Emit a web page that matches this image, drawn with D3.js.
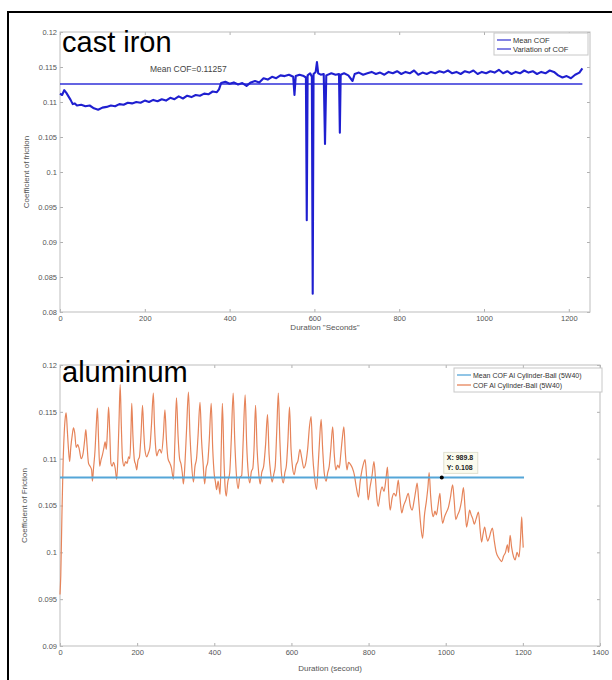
<!DOCTYPE html>
<html><head><meta charset="utf-8">
<script src="https://cdn.jsdelivr.net/npm/d3@7/dist/d3.min.js"></script>
<style>body{margin:0;background:#fff}svg{display:block}text{font-family:"Liberation Sans",Arial,sans-serif}</style>
</head><body>
<svg id="c" width="612" height="680"></svg>
<script>
// ---------- data: cast iron ----------
const castTime = [0,5,10,15,20,25,30,35,40,50,60,70,80,90,100,110,120,130,140,150,160,170,180,190,200,210,220,230,240,250,260,270,280,290,300,310,320,330,340,350,360,370,375,380,390,400,410,420,430,440,450,460,470,480,490,500,510,520,530,540,550,553,556,565,575,580,582,584,590,594,596,598,603,606,609,615,622,625,628,640,650,658,660,662,670,680,690,695,705,715,725,735,745,755,765,775,785,795,805,815,825,835,845,855,865,875,885,895,905,915,925,935,945,955,965,975,985,995,1005,1015,1025,1035,1045,1055,1065,1075,1085,1095,1105,1115,1125,1135,1145,1155,1165,1175,1185,1195,1205,1215,1225,1232];
const castCOF = [0.1112,0.1110,0.1117,0.1113,0.1108,0.1103,0.1097,0.1098,0.1095,0.1096,0.1094,0.1095,0.1091,0.1089,0.1092,0.1093,0.1095,0.1094,0.1097,0.1096,0.1099,0.1098,0.1100,0.1099,0.1102,0.1100,0.1103,0.1101,0.1104,0.1102,0.1106,0.1104,0.1108,0.1105,0.1109,0.1107,0.1110,0.1109,0.1112,0.1111,0.1115,0.1114,0.1118,0.1127,0.1129,0.1126,0.1128,0.1125,0.1127,0.1123,0.1128,0.1130,0.1128,0.1134,0.1132,0.1136,0.1134,0.1138,0.1137,0.1139,0.1136,0.1110,0.1137,0.1139,0.1137,0.1135,0.0931,0.1138,0.1141,0.1136,0.0826,0.1140,0.1143,0.1157,0.1141,0.1139,0.1140,0.1040,0.1138,0.1141,0.1139,0.1140,0.1056,0.1139,0.1141,0.1138,0.1130,0.1140,0.1142,0.1139,0.1141,0.1143,0.1140,0.1142,0.1139,0.1143,0.1141,0.1144,0.1140,0.1143,0.1141,0.1145,0.1139,0.1142,0.1140,0.1143,0.1141,0.1144,0.1142,0.1145,0.1141,0.1143,0.1140,0.1144,0.1142,0.1145,0.1140,0.1143,0.1141,0.1144,0.1142,0.1146,0.1141,0.1144,0.1140,0.1143,0.1141,0.1145,0.1142,0.1144,0.1140,0.1143,0.1141,0.1145,0.1143,0.1138,0.1135,0.1137,0.1134,0.1139,0.1142,0.1148];
const castMean = 0.11257;
const castMeanEnd = 1232;
const castXTicks = [0,200,400,600,800,1000,1200];
const castYTicks = [0.08,0.085,0.09,0.095,0.1,0.105,0.11,0.115,0.12];
const castYLabels = ["0.08","0.085","0.09","0.095","0.1","0.105","0.11","0.115","0.12"];
const castLegend = ["Mean COF","Variation of COF"];

// ---------- data: aluminum ----------
const alTime = [0,2,5,8,11,14,16,19,22,25,28,32,35,38,42,46,50,55,60,64,67,70,74,78,82,84,87,91,94,97,100,103,106,110,114,117,120,123,126,129,132,135,139,143,147,150,153,156,159,162,166,170,174,178,181,184,186,189,193,196,199,202,206,210,214,217,220,225,229,233,237,242,245,248,251,255,259,263,268,272,276,280,285,289,294,298,302,306,310,314,317,320,324,328,333,337,341,346,350,354,358,363,367,371,375,379,383,387,392,396,400,403,406,410,415,418,421,425,428,431,435,440,444,449,453,457,462,466,471,475,480,484,488,492,496,500,503,507,511,515,519,523,528,533,538,542,546,550,554,558,562,566,570,574,579,583,587,591,595,599,603,607,612,617,622,627,632,637,642,647,651,655,660,665,669,673,677,681,685,690,694,698,702,707,711,715,720,724,728,732,736,740,744,748,753,758,763,768,774,778,783,787,791,795,799,804,809,814,818,821,825,830,835,840,845,849,852,856,861,866,871,877,881,886,891,896,903,908,913,918,922,926,930,935,940,945,950,954,957,961,964,968,972,976,980,985,988,992,997,1002,1007,1012,1018,1022,1026,1031,1036,1041,1046,1050,1054,1058,1062,1066,1070,1074,1079,1085,1089,1093,1097,1101,1105,1109,1113,1117,1121,1126,1131,1136,1141,1145,1150,1155,1160,1163,1167,1171,1176,1180,1185,1190,1194,1197,1199,1201];
const alCOF = [0.0955,0.0975,0.1040,0.1095,0.1128,0.1145,0.1149,0.1130,0.1110,0.1097,0.1112,0.1126,0.1133,0.1128,0.1112,0.1115,0.1110,0.1100,0.1106,0.1120,0.1131,0.1115,0.1095,0.1092,0.1088,0.1076,0.1090,0.1110,0.1135,0.1154,0.1120,0.1092,0.1098,0.1104,0.1112,0.1118,0.1110,0.1130,0.1155,0.1128,0.1095,0.1092,0.1096,0.1090,0.1078,0.1100,0.1140,0.1179,0.1135,0.1100,0.1092,0.1097,0.1095,0.1102,0.1100,0.1130,0.1159,0.1125,0.1098,0.1094,0.1088,0.1098,0.1102,0.1125,0.1157,0.1130,0.1110,0.1102,0.1106,0.1112,0.1135,0.1170,0.1135,0.1112,0.1103,0.1108,0.1110,0.1106,0.1125,0.1152,0.1120,0.1100,0.1095,0.1090,0.1078,0.1120,0.1165,0.1125,0.1100,0.1094,0.1085,0.1073,0.1095,0.1130,0.1171,0.1125,0.1095,0.1075,0.1092,0.1100,0.1125,0.1160,0.1120,0.1095,0.1073,0.1090,0.1096,0.1120,0.1159,0.1110,0.1083,0.1075,0.1067,0.1076,0.1062,0.1110,0.1159,0.1100,0.1070,0.1060,0.1075,0.1085,0.1120,0.1170,0.1120,0.1085,0.1068,0.1080,0.1082,0.1120,0.1168,0.1115,0.1085,0.1074,0.1086,0.1090,0.1110,0.1157,0.1110,0.1085,0.1073,0.1085,0.1092,0.1115,0.1147,0.1105,0.1085,0.1075,0.1083,0.1092,0.1130,0.1170,0.1120,0.1085,0.1074,0.1085,0.1093,0.1120,0.1155,0.1110,0.1090,0.1083,0.1093,0.1098,0.1110,0.1100,0.1090,0.1095,0.1110,0.1135,0.1145,0.1105,0.1080,0.1067,0.1090,0.1120,0.1142,0.1110,0.1085,0.1076,0.1085,0.1092,0.1110,0.1134,0.1105,0.1088,0.1093,0.1090,0.1105,0.1122,0.1134,0.1105,0.1088,0.1096,0.1094,0.1090,0.1083,0.1070,0.1059,0.1075,0.1088,0.1095,0.1099,0.1080,0.1056,0.1070,0.1082,0.1097,0.1078,0.1060,0.1049,0.1062,0.1070,0.1065,0.1078,0.1091,0.1065,0.1045,0.1058,0.1063,0.1060,0.1077,0.1060,0.1042,0.1050,0.1055,0.1063,0.1050,0.1045,0.1055,0.1065,0.1074,0.1055,0.1030,0.1015,0.1040,0.1055,0.1070,0.1085,0.1060,0.1045,0.1038,0.1044,0.1040,0.1050,0.1063,0.1045,0.1031,0.1038,0.1043,0.1048,0.1058,0.1072,0.1055,0.1035,0.1040,0.1045,0.1055,0.1069,0.1048,0.1027,0.1035,0.1045,0.1040,0.1036,0.1030,0.1036,0.1043,0.1025,0.1011,0.1020,0.1027,0.1018,0.1012,0.1016,0.1022,0.1026,0.1012,0.1000,0.0995,0.0992,0.0990,0.0996,0.1000,0.1008,0.1000,0.1018,0.1005,0.0995,0.0992,0.1000,0.0995,0.1015,0.1038,0.1020,0.1005];
const alMean = 0.108;
const alMeanEnd = 1203;
const alXTicks = [0,200,400,600,800,1000,1200,1400];
const alYTicks = [0.09,0.095,0.1,0.105,0.11,0.115,0.12];
const alYLabels = ["0.09","0.095","0.1","0.105","0.11","0.115","0.12"];
const alLegend = ["Mean COF Al Cylinder-Ball (5W40)","COF Al Cylinder-Ball (5W40)"];
const tipX = 989.8, tipY = 0.108;
const tipLabels = ["X: 989.8","Y: 0.108"];

const svg = d3.select("#c");
svg.append("rect").attr("x",8).attr("y",12).attr("width",640).attr("height",720)
  .attr("fill","none").attr("stroke","#000").attr("stroke-width",2);

function panel(o){
  const g = svg.append("g");
  const x = d3.scaleLinear().domain(o.xd).range([o.L,o.R]);
  const y = d3.scaleLinear().domain(o.yd).range([o.B,o.T]);
  const lab = d3.scaleOrdinal().domain(o.yTicks).range(o.yLabels);
  const style = s => {
    s.select(".domain").remove();
    s.selectAll("line").attr("stroke","#b0b0b0");
    s.selectAll("text").attr("fill","#555").attr("font-size",7.5)
     .attr("font-family","'Liberation Sans',Arial,sans-serif");
  };
  g.append("g").attr("transform",`translate(0,${o.B})`)
    .call(d3.axisBottom(x).tickValues(o.xTicks).tickSize(-3).tickPadding(4).tickFormat(d3.format("d"))).call(style);
  g.append("g").attr("transform",`translate(0,${o.T})`)
    .call(d3.axisTop(x).tickValues(o.xTicks).tickSize(-3).tickFormat("")).call(style);
  g.append("g").attr("transform",`translate(${o.L},0)`)
    .call(d3.axisLeft(y).tickValues(o.yTicks).tickSize(-3).tickPadding(3).tickFormat(d=>lab(d))).call(style);
  g.append("g").attr("transform",`translate(${o.R},0)`)
    .call(d3.axisRight(y).tickValues(o.yTicks).tickSize(-3).tickFormat("")).call(style);
  g.append("rect").attr("x",o.L).attr("y",o.T).attr("width",o.R-o.L).attr("height",o.B-o.T)
    .attr("fill","none").attr("stroke","#bdbdbd").attr("stroke-width",1);
  g.append("text").attr("x",(o.L+o.R)/2).attr("y",o.xTitleY).attr("text-anchor","middle")
    .attr("font-size",8).attr("fill","#555").text(o.xTitle);
  g.append("text").attr("transform",`translate(${o.yTitleX},${(o.T+o.B)/2}) rotate(-90)`)
    .attr("text-anchor","middle").attr("font-size",8).attr("fill","#555").text(o.yTitle);
  return {g,x,y};
}

// ---------- top panel ----------
const P1 = panel({xd:[0,1250],yd:[0.08,0.12],L:60,R:590,T:32,B:312,
  xTicks:castXTicks,yTicks:castYTicks,yLabels:castYLabels,
  xTitle:'Duration "Seconds"',xTitleY:330,yTitle:"Coefficient of friction",yTitleX:29});
P1.g.append("line").attr("x1",P1.x(0)).attr("x2",P1.x(castMeanEnd))
  .attr("y1",P1.y(castMean)).attr("y2",P1.y(castMean)).attr("stroke","#3030d8").attr("stroke-width",1.3);
P1.g.append("path").datum(castTime.map((t,i)=>[t,castCOF[i]]))
  .attr("d",d3.line().x(d=>P1.x(d[0])).y(d=>P1.y(d[1])))
  .attr("fill","none").attr("stroke","#1f1fd0").attr("stroke-width",2.1).attr("stroke-linejoin","round");
P1.g.append("text").attr("x",150).attr("y",72).attr("font-size",8.5).attr("fill","#444").text("Mean COF="+castMean);
svg.append("text").attr("x",62).attr("y",52).attr("font-size",29).attr("fill","#000").text("cast iron");
{
  const lg = svg.append("g").attr("transform","translate(494,33)");
  lg.append("rect").attr("width",94).attr("height",22).attr("fill","#fff").attr("stroke","#c8c8c8");
  castLegend.forEach((s,i)=>{
    lg.append("line").attr("x1",3).attr("x2",17).attr("y1",7+i*9).attr("y2",7+i*9).attr("stroke","#3030d0").attr("stroke-width",1.2);
    lg.append("text").attr("x",19).attr("y",10+i*9).attr("font-size",7.5).attr("fill","#333").text(s);
  });
}

// ---------- bottom panel ----------
const P2 = panel({xd:[0,1400],yd:[0.09,0.12],L:60,R:600,T:365,B:646,
  xTicks:alXTicks,yTicks:alYTicks,yLabels:alYLabels,
  xTitle:"Duration (second)",xTitleY:671,yTitle:"Coefficient of Friction",yTitleX:27});
P2.g.append("path").datum(alTime.map((t,i)=>[t,alCOF[i]]))
  .attr("d",d3.line().curve(d3.curveMonotoneX).x(d=>P2.x(d[0])).y(d=>P2.y(d[1])))
  .attr("fill","none").attr("stroke","#e6845a").attr("stroke-width",1.2).attr("stroke-linejoin","round");
P2.g.append("line").attr("x1",P2.x(0)).attr("x2",P2.x(alMeanEnd))
  .attr("y1",P2.y(alMean)).attr("y2",P2.y(alMean)).attr("stroke","#55a6d8").attr("stroke-width",2);
svg.append("text").attr("x",62).attr("y",382).attr("font-size",29).attr("fill","#000").text("aluminum");
P2.g.append("circle").attr("cx",P2.x(tipX)).attr("cy",P2.y(tipY)).attr("r",2).attr("fill","#000");
{
  const tg = svg.append("g").attr("transform",`translate(${P2.x(tipX)+2},${P2.y(tipY)-25})`);
  tg.append("rect").attr("width",34).attr("height",21).attr("fill","#fbfbee").attr("stroke","#e0e0d0");
  tipLabels.forEach((s,i)=>tg.append("text").attr("x",3).attr("y",8+i*10).attr("font-size",7)
    .attr("font-weight","bold").attr("font-family","'Liberation Serif',serif").attr("fill","#222").text(s));
}
{
  const lg = svg.append("g").attr("transform","translate(454,368)");
  lg.append("rect").attr("width",148).attr("height",24).attr("fill","#fff").attr("stroke","#c8c8c8");
  const cols = ["#55a6d8","#e6845a"];
  alLegend.forEach((s,i)=>{
    lg.append("line").attr("x1",3).attr("x2",17).attr("y1",7+i*10).attr("y2",7+i*10).attr("stroke",cols[i]).attr("stroke-width",1.3);
    lg.append("text").attr("x",19).attr("y",10+i*10).attr("font-size",7).attr("fill","#333").text(s);
  });
}
</script>
</body></html>
